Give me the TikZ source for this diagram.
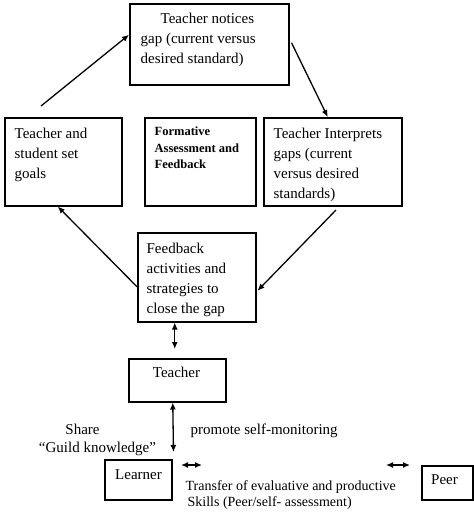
\documentclass[tikz,border=0pt]{standalone}
\usepackage{fontspec}
\setmainfont{Liberation Serif}
\usetikzlibrary{arrows.meta, positioning, calc}

\tikzset{
    box/.style={draw, line width=1.5pt, inner sep=0pt, anchor=north west},
    boxtext/.style={inner sep=0pt, anchor=north west, align=left, font=\fontsize{15}{20.3}\selectfont},
    plaintext/.style={inner sep=0pt, font=\fontsize{15}{18}\selectfont},
}

\begin{document}
\begin{tikzpicture}[x=1pt, y=-1pt, >={Latex[length=7pt, width=6pt]}, line width=1.3pt]
    \useasboundingbox (0,0) rectangle (474,515);

    % --- Cycle of formative assessment ---
    \node[box, minimum width=159pt, minimum height=81pt] (notices) at (129,3) {};
    \node[boxtext] (noticestxt) at (140,12) {\hspace*{20pt}Teacher notices\\gap (current versus\\desired standard)};

    \node[box, minimum width=117pt, minimum height=88pt] (goals) at (4,117) {};
    \node[boxtext] (goalstxt) at (14,127) {Teacher and\\student set\\goals};

    \node[box, minimum width=111pt, minimum height=88pt] (formative) at (144,117) {};
    \node[boxtext, font=\fontsize{12.5}{16.5}\selectfont\bfseries] (formativetxt) at (154,126.5) {Formative\\Assessment and\\Feedback};

    \node[box, minimum width=138pt, minimum height=88pt] (interp) at (263,117) {};
    \node[boxtext] (interptxt) at (273,127) {Teacher Interprets\\gaps (current\\versus desired\\standards)};

    \node[box, minimum width=118pt, minimum height=89pt] (feedback) at (137,232) {};
    \node[boxtext] (feedbacktxt) at (146,242) {Feedback\\activities and\\strategies to\\close the gap};

    % arrows round the cycle
    \coordinate (goalsup) at (41,106);
    \coordinate (interpdown) at (336,210);
    \draw[->] (goalsup) -- ([yshift=9.5pt]notices.west);
    \draw[->] ([xshift=2pt, yshift=1.5pt]notices.east) -- ([xshift=-5pt]interp.north);
    \draw[->] (interpdown) -- ([xshift=1pt, yshift=-13.5pt]feedback.east);
    \draw[->] ([yshift=-9.5pt]feedback.west) -- ([xshift=-5.5pt]goals.south);

    % --- Teacher, learner and peer ---
    \node[box, minimum width=97pt, minimum height=43pt] (teacher) at (128,358) {};
    \node[plaintext, anchor=base] (teachertxt) at (176.5,377) {Teacher};

    \node[box, minimum width=67pt, minimum height=40pt] (learner) at (104,459) {};
    \node[plaintext, anchor=base] (learnertxt) at (138.5,479) {Learner};

    \node[box, minimum width=51pt, minimum height=34pt] (peer) at (421,465) {};
    \node[plaintext, anchor=base] (peertxt) at (444.5,484) {Peer};

    \draw[<->] ([xshift=-22pt]feedback.south) -- ([xshift=-2.5pt, yshift=9pt]teacher.north);
    \draw[<->] ([xshift=-4.5pt]teacher.south) -- ([xshift=1pt, yshift=7pt]learner.north east);

    \coordinate (learnerA) at (181,465);
    \coordinate (learnerB) at (202,465);
    \coordinate (peerA) at (386,465);
    \coordinate (peerB) at (410,465);
    \draw[<->] (learnerA) -- (learnerB);
    \draw[<->] (peerA) -- (peerB);

    % labels
    \node[plaintext, anchor=base] (share) at (82.5,434) {Share};
    \node[plaintext, anchor=base] (guild) at (97.5,452) {“Guild knowledge”};
    \node[plaintext, anchor=base west] (promote) at (190,434) {promote self-monitoring};
    \node[boxtext, font=\fontsize{14}{16}\selectfont] (transfer) at (185,479.5) {Transfer of evaluative and productive\\\hspace*{2pt}Skills (Peer/self- assessment)};
\end{tikzpicture}
\end{document}
